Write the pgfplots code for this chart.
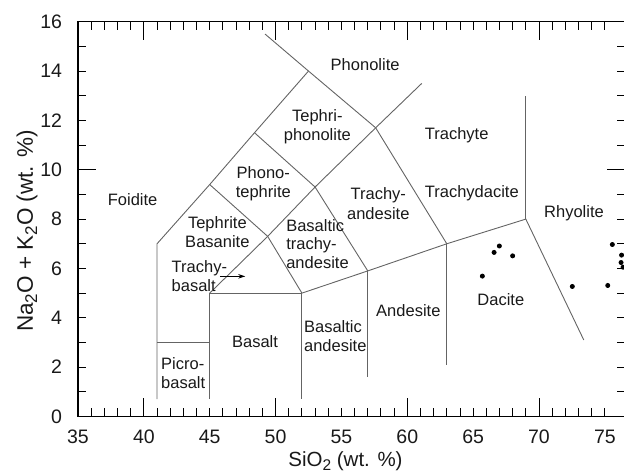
\documentclass[border=0pt]{standalone}
\usepackage{pgfplots}
\pgfplotsset{compat=1.18}
\usepackage{fontspec}
\setmainfont{Liberation Sans}
\usetikzlibrary{arrows.meta}
\definecolor{ln}{RGB}{100,100,100}
\definecolor{tx}{RGB}{25,25,25}
\begin{document}
\begin{tikzpicture}
\begin{axis}[
  scale only axis,
  width=547pt, height=394.8pt,
  xmin=35, xmax=76.53, ymin=0, ymax=16,
  axis line style={black, line width=1.1pt},
  tick style={black, line width=0.9pt},
  tick align=inside,
  xtick={35,40,...,75},
  ytick={0,2,...,16},
  minor x tick num=4, minor y tick num=1,
  major tick length=8pt, minor tick length=8pt,
  extra x ticks={40,50,60,70}, extra x tick labels={,,,},
  extra y ticks={10}, extra y tick labels={,},
  extra x tick style={major tick length=18pt, grid=none},
  extra y tick style={major tick length=18pt, grid=none},
  /pgf/number format/assume math mode=true,
  tick label style={font=\fontsize{19.5}{21}\selectfont, text=tx},
  xticklabel style={yshift=-10pt},
  yticklabel style={xshift=-12.5pt},
  xlabel={SiO\raisebox{-0.35ex}{\fontsize{15.5}{15.5}\selectfont 2} (wt. \%)},
  xlabel style={at={(axis description cs:0.489,0)}, anchor=base, yshift=-50pt, font=\fontsize{20.5}{22}\selectfont, text=tx},
  ylabel={Na\raisebox{-0.35ex}{\fontsize{17}{17}\selectfont 2}O + K\raisebox{-0.35ex}{\fontsize{17}{17}\selectfont 2}O (wt. \%)},
  ylabel style={at={(axis description cs:-0.0823,0.47)}, anchor=base, font=\fontsize{22.5}{24}\selectfont, text=tx},
  every axis plot/.append style={line width=0.9pt},
]
% region boundaries
\addplot[ln] coordinates {(41,0.7) (41,7) (45,9.4) (48.4,11.5) (52.5,14)};
\addplot[ln] coordinates {(49.2,15.5) (52.5,14) (57.6,11.7)};
\addplot[ln] coordinates {(41,3) (45,3)};
\addplot[ln] coordinates {(45,0.7) (45,5) (52,5) (52,0.7)};
\addplot[ln] coordinates {(52,5) (57,5.9) (63,7) (69,8) (73.4,3.1)};
\addplot[ln] coordinates {(57,5.9) (57,1.6)};
\addplot[ln] coordinates {(63,7) (63,2.1)};
\addplot[ln] coordinates {(69,8) (69,13)};
\addplot[ln] coordinates {(45,5) (49.4,7.3) (53,9.3) (57.6,11.7) (61.1,13.5)};
\addplot[ln] coordinates {(45,9.4) (49.4,7.3) (52,5)};
\addplot[ln] coordinates {(48.4,11.5) (53,9.3) (57,5.9)};
\addplot[ln] coordinates {(57.6,11.7) (63,7)};
% arrow
\addplot[black, line width=0.8pt, -{Stealth[length=7pt,width=4.5pt]}] coordinates {(45.78,5.68) (47.7,5.68)};
% samples
\addplot[only marks, mark=*, mark size=2pt, black] coordinates {
(66.99,6.91) (66.59,6.65) (68.0,6.51) (65.7,5.69) (72.53,5.27)
(75.57,6.97) (75.22,5.31) (76.27,6.54) (76.23,6.24) (76.38,6.05)};
% labels
\begin{scope}[every node/.style={font=\fontsize{16.5}{19.3}\selectfont, text=tx, inner sep=0pt, align=center}]
\node at (axis cs:39.15,8.77) {Foidite};
\node at (axis cs:56.8,14.26) {Phonolite};
\node at (axis cs:53.17,11.73) {Tephri-\\phonolite};
\node at (axis cs:49.07,9.42) {Phono-\\tephrite};
\node at (axis cs:45.58,7.46) {Tephrite\\Basanite};
\node[anchor=west, align=left] at (axis cs:42.1,5.70) {Trachy-\\basalt};
\node[anchor=west, align=left, font=\fontsize{16.5}{18.5}\selectfont] at (axis cs:50.8,7.0) {Basaltic\\trachy-\\andesite};
\node at (axis cs:57.8,8.63) {Trachy-\\andesite};
\node at (axis cs:63.75,11.4) {Trachyte};
\node at (axis cs:64.9,9.04) {Trachydacite};
\node at (axis cs:72.66,8.23) {Rhyolite};
\node at (axis cs:48.44,3.03) {Basalt};
\node[anchor=west, align=left] at (axis cs:41.3,1.75) {Picro-\\basalt};
\node[anchor=west, align=left] at (axis cs:52.15,3.27) {Basaltic\\andesite};
\node at (axis cs:60.08,4.31) {Andesite};
\node at (axis cs:67.1,4.74) {Dacite};
\end{scope}
\coordinate (bl) at (rel axis cs:0,0);
\coordinate (tl) at (rel axis cs:0,1);
\end{axis}
\pgfresetboundingbox
\path ([xshift=-78pt,yshift=-56.5pt]bl) rectangle ([xshift=546pt,yshift=21.7pt]tl);
\end{tikzpicture}
\end{document}
